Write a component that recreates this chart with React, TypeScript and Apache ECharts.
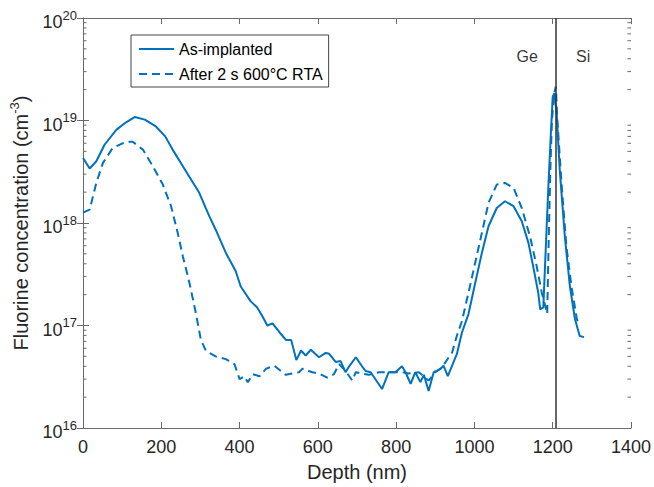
import React, { useEffect, useRef } from "react";
import * as echarts from "echarts";

// ---- Data ----
const asImplantedDepth = [
  0, 17, 34, 55, 85, 110, 132, 158, 187, 210, 229, 263, 297, 322, 339, 365, 390, 403, 428, 445,
  458, 471, 484, 503, 519, 532, 545, 557, 569, 582, 603, 620, 629, 646, 658, 671, 680, 697, 713,
  722, 735, 764, 781, 798, 815, 824, 837, 849, 862, 871, 883, 896, 913, 921, 932, 955, 968, 985,
  1002, 1019, 1036, 1057, 1078, 1100, 1121, 1138, 1150, 1163, 1168, 1176, 1180, 1189, 1195, 1200,
  1204, 1210, 1218, 1231, 1244, 1257, 1269, 1280,
];
const asImplantedConc = [
  4.3e18, 3.4e18, 4.0e18, 5.8e18, 8.1e18, 9.6e18, 1.08e19, 1.02e19, 8.7e18, 7.0e18, 5.2e18,
  3.2e18, 1.97e18, 1.18e18, 8.6e17, 5.1e17, 3.4e17, 2.4e17, 1.73e17, 1.5e17, 1.24e17, 1.0e17,
  1.05e17, 8.5e16, 7.2e16, 7.2e16, 4.6e16, 5.7e16, 5.1e16, 5.8e16, 4.9e16, 5.4e16, 5.3e16, 4.4e16,
  4.5e16, 3.5e16, 4.0e16, 4.9e16, 4.0e16, 3.6e16, 3.5e16, 2.4e16, 3.5e16, 3.5e16, 4.0e16, 3.5e16,
  2.7e16, 3.5e16, 2.8e16, 3.3e16, 2.3e16, 3.5e16, 3.75e16, 4.05e16, 3.2e16, 5.25e16, 8.5e16,
  1.3e17, 2.6e17, 5.1e17, 9.3e17, 1.4e18, 1.63e18, 1.46e18, 1.04e18, 6.4e17, 3.8e17, 2.1e17,
  1.44e17, 1.5e17, 3.5e17, 2.3e18, 7.0e18, 1.7e19, 1.85e19, 1.19e19, 3.3e18, 7.4e17, 2.4e17,
  1.15e17, 7.9e16, 7.7e16,
];

const annealedDepth = [
  0, 17, 34, 51, 76, 110, 127, 153, 178, 204, 225, 242, 255, 272, 288, 301, 314, 339, 365, 387,
  400, 412, 421, 434, 451, 468, 489, 518, 552, 561, 586, 603, 624, 641, 654, 671, 688, 697, 730,
  756, 781, 815, 832, 858, 883, 900, 917, 943, 955, 968, 985, 1002, 1019, 1036, 1057, 1078, 1100,
  1121, 1142, 1159, 1172, 1186, 1190, 1194, 1198, 1204, 1208, 1212, 1223, 1235, 1248, 1261, 1265,
];
const annealedConc = [
  1.26e18, 1.35e18, 2.46e18, 3.86e18, 5.4e18, 6.2e18, 6.2e18, 5.2e18, 3.6e18, 2.37e18, 1.46e18,
  8.0e17, 4.75e17, 2.6e17, 1.34e17, 7.3e16, 5.65e16, 5.0e16, 4.7e16, 4.2e16, 3.0e16, 3.2e16,
  2.8e16, 3.35e16, 3.2e16, 3.8e16, 4.05e16, 3.3e16, 3.5e16, 3.8e16, 3.5e16, 3.4e16, 3.1e16,
  3.35e16, 4.2e16, 3.6e16, 2.9e16, 3.5e16, 3.3e16, 3.5e16, 3.5e16, 3.5e16, 3.4e16, 3.5e16, 2.9e16,
  3.5e16, 3.9e16, 5.45e16, 7.9e16, 1.1e17, 2.1e17, 4.1e17, 8.0e17, 1.57e18, 2.37e18, 2.46e18,
  2.2e18, 1.4e18, 7.4e17, 3.8e17, 2.1e17, 1.3e17, 7.4e17, 3.3e18, 1.0e19, 1.85e19, 2.15e19,
  1.0e19, 2.3e18, 5.9e17, 2.4e17, 1.2e17, 1.05e17,
];

const seriesNames = ["As-implanted", "After 2 s 600°C RTA"];
const interfaceDepth = 1208;
const regionLabels = ["Ge", "Si"];
const regionLabelDepth = [1135, 1278];
const regionLabelConc = 4.2e19;

const xMin = 0;
const xMax = 1400;
const xInterval = 200;
const yMin = 1e16;
const yMax = 1e20;
const decades = [16, 17, 18, 19];
const minorMultipliers = [2, 3, 4, 5, 6, 7, 8, 9];

const FONT = "'Liberation Sans', Arial, Helvetica, sans-serif";
const BLUE = "#0072BD";
const AXIS = "#6a6a6a";
const TEXT = "#262626";

export default function App() {
  const ref = useRef<HTMLDivElement>(null);

  useEffect(() => {
    if (!ref.current) return;
    const chart = echarts.init(ref.current, undefined, { renderer: "svg" });

    const minorTicks: number[][] = [];
    decades.forEach((d) =>
      minorMultipliers.forEach((m) => minorTicks.push([xMin, m * Math.pow(10, d)]))
    );

    const xAxisCommon = {
      type: "value" as const,
      min: xMin,
      max: xMax,
      interval: xInterval,
      splitLine: { show: false },
      axisLine: { show: true, lineStyle: { color: AXIS, width: 1 } },
      axisTick: { show: true, inside: true, length: 6, lineStyle: { color: AXIS } },
    };
    const yAxisCommon = {
      type: "log" as const,
      logBase: 10,
      min: yMin,
      max: yMax,
      interval: 1,
      splitLine: { show: false },
      axisLine: { show: true, lineStyle: { color: AXIS, width: 1 } },
      axisTick: { show: true, inside: true, length: 6, lineStyle: { color: AXIS } },
    };

    chart.setOption({
      animation: false,
      backgroundColor: "#ffffff",
      textStyle: { fontFamily: FONT },
      grid: { left: 83, top: 18, right: 21, bottom: 58, containLabel: false },
      legend: {
        data: seriesNames,
        orient: "vertical",
        left: 131,
        top: 35,
        itemWidth: 35,
        itemHeight: 14,
        itemGap: 9,
        padding: [6, 6, 5, 7],
        borderColor: "#444",
        borderWidth: 1,
        backgroundColor: "#fff",
        itemStyle: { color: "transparent", borderWidth: 0, opacity: 0 },
        textStyle: { fontSize: 16, color: "#000", fontFamily: FONT },
      },
      xAxis: [
        {
          ...xAxisCommon,
          position: "bottom",
          name: "Depth (nm)",
          nameLocation: "middle",
          nameGap: 34,
          nameTextStyle: { fontSize: 20, color: TEXT, fontFamily: FONT },
          axisLabel: {
            fontSize: 18,
            color: TEXT,
            margin: 10,
            fontFamily: FONT,
            formatter: (v: number) => String(v),
          },
        },
        {
          ...xAxisCommon,
          position: "top",
          axisLabel: { show: false },
        },
      ],
      yAxis: [
        {
          ...yAxisCommon,
          position: "left",
          name: "{a|Fluorine concentration (cm}{s|-3}{a|)}",
          nameLocation: "middle",
          nameRotate: 90,
          nameGap: 50,
          nameTextStyle: {
            rich: {
              a: { fontSize: 20, color: TEXT, fontFamily: FONT },
              s: { fontSize: 13, color: TEXT, fontFamily: FONT, padding: [0, 0, 12, 0] },
            },
          },
          axisLabel: {
            margin: 6,
            formatter: (v: number) => `{b|10}{s|${Math.round(Math.log10(v))}}`,
            rich: {
              b: { fontSize: 18, color: TEXT, fontFamily: FONT, padding: [8, 0, 0, 0] },
              s: { fontSize: 13, color: TEXT, fontFamily: FONT, padding: [0, 0, 6, 0] },
            },
          },
        },
        {
          ...yAxisCommon,
          position: "right",
          axisLabel: { show: false },
        },
      ],
      series: [
        {
          name: seriesNames[0],
          type: "line",
          data: asImplantedDepth.map((d, i) => [d, asImplantedConc[i]]),
          showSymbol: false,
          symbol: "none",
          lineStyle: { color: BLUE, width: 2, type: "solid" },
          itemStyle: { color: BLUE },
          z: 3,
          markLine: {
            silent: true,
            symbol: "none",
            label: { show: false },
            lineStyle: { color: "#333", width: 1.5, type: "solid" },
            data: [{ xAxis: interfaceDepth }],
          },
        },
        {
          name: seriesNames[1],
          type: "line",
          data: annealedDepth.map((d, i) => [d, annealedConc[i]]),
          showSymbol: false,
          symbol: "none",
          lineStyle: { color: BLUE, width: 2, type: [8, 5] },
          itemStyle: { color: BLUE },
          z: 3,
        },
        {
          name: "regions",
          type: "scatter",
          symbolSize: 0,
          silent: true,
          data: regionLabels.map((n, i) => ({ name: n, value: [regionLabelDepth[i], regionLabelConc] })),
          label: {
            show: true,
            position: "inside",
            formatter: (p: any) => p.name,
            fontSize: 16,
            color: "#000",
            fontFamily: FONT,
          },
        },
        {
          name: "minorTicks",
          type: "custom",
          silent: true,
          clip: false,
          z: 5,
          data: minorTicks,
          renderItem: (_params: any, api: any) => {
            const v = api.value(1);
            const [xl, y] = api.coord([xMin, v]);
            const xr = api.coord([xMax, v])[0];
            const style = { stroke: AXIS, lineWidth: 1, fill: "none" };
            return {
              type: "group",
              children: [
                { type: "line", shape: { x1: xl, y1: y, x2: xl + 3.5, y2: y }, style },
                { type: "line", shape: { x1: xr - 3.5, y1: y, x2: xr, y2: y }, style },
              ],
            };
          },
        },
      ],
    });

    return () => chart.dispose();
  }, []);

  return (
    <div
      ref={ref}
      style={{ position: "fixed", left: 0, top: 0, width: 654, height: 487, background: "#fff" }}
    />
  );
}
